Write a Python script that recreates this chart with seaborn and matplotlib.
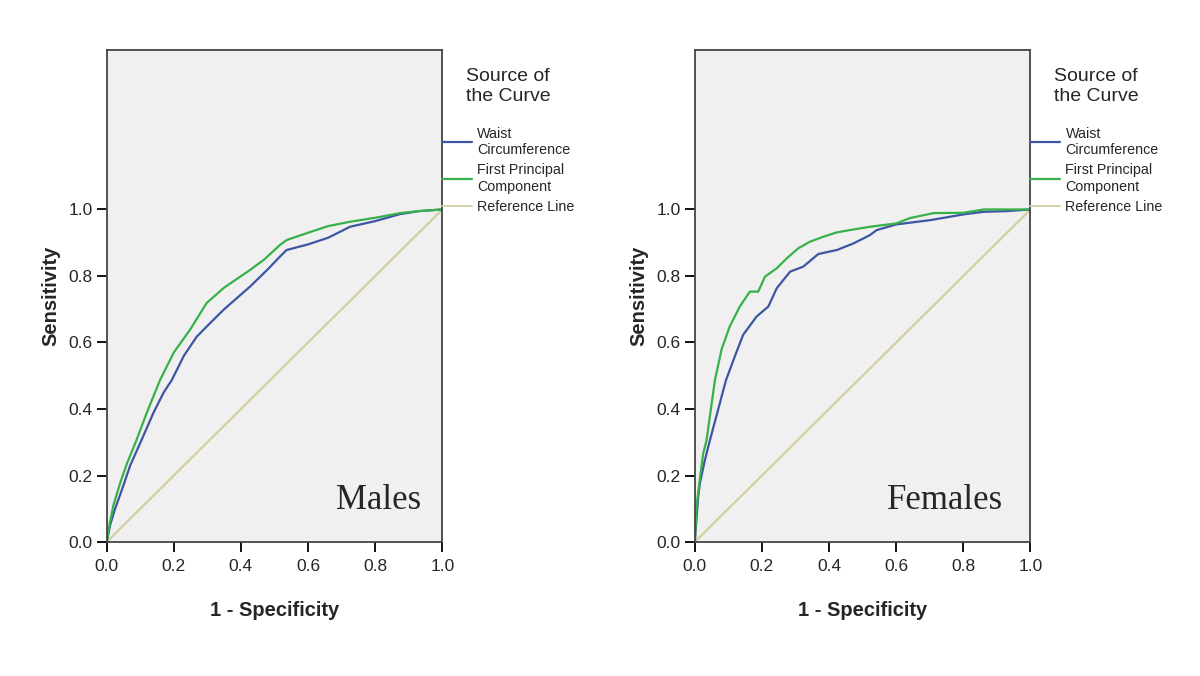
import pandas as pd
import matplotlib
matplotlib.use("Agg")
import matplotlib.pyplot as plt
import seaborn as sns

# ROC curve points (1 - specificity, sensitivity)
male_wc_fpr = [0, 0.01, 0.025, 0.045, 0.07, 0.104, 0.14, 0.17, 0.194, 0.23, 0.268, 0.298,
               0.35, 0.427, 0.48, 0.516, 0.536, 0.6, 0.66, 0.725, 0.8, 0.874, 0.93, 1.0]
male_wc_tpr = [0, 0.05, 0.1, 0.156, 0.23, 0.307, 0.39, 0.45, 0.487, 0.56, 0.617, 0.648,
               0.70, 0.768, 0.82, 0.858, 0.878, 0.895, 0.915, 0.948, 0.965, 0.986, 0.995, 1.0]

male_pc_fpr = [0, 0.01, 0.02, 0.04, 0.06, 0.089, 0.12, 0.159, 0.2, 0.248, 0.298, 0.35,
               0.427, 0.47, 0.516, 0.536, 0.6, 0.66, 0.725, 0.8, 0.874, 0.93, 1.0]
male_pc_tpr = [0, 0.06, 0.11, 0.177, 0.235, 0.307, 0.39, 0.487, 0.57, 0.638, 0.719, 0.765,
               0.818, 0.85, 0.893, 0.908, 0.93, 0.95, 0.963, 0.975, 0.989, 0.995, 1.0]

female_wc_fpr = [0, 0.005, 0.01, 0.015, 0.03, 0.045, 0.07, 0.093, 0.12, 0.144, 0.184, 0.219,
                 0.244, 0.284, 0.323, 0.368, 0.423, 0.473, 0.522, 0.542, 0.6, 0.702, 0.8,
                 0.861, 0.93, 1.0]
female_wc_tpr = [0, 0.07, 0.135, 0.176, 0.246, 0.306, 0.40, 0.487, 0.56, 0.623, 0.678, 0.708,
                 0.763, 0.813, 0.828, 0.866, 0.878, 0.898, 0.923, 0.938, 0.955, 0.968, 0.985,
                 0.993, 0.995, 1.0]

female_pc_fpr = [0, 0.005, 0.015, 0.025, 0.035, 0.06, 0.08, 0.104, 0.134, 0.164, 0.189, 0.209,
                 0.244, 0.274, 0.308, 0.343, 0.383, 0.423, 0.462, 0.522, 0.6, 0.641, 0.711,
                 0.8, 0.861, 1.0]
female_pc_tpr = [0, 0.105, 0.19, 0.266, 0.306, 0.487, 0.58, 0.648, 0.708, 0.753, 0.753, 0.798,
                 0.823, 0.853, 0.883, 0.903, 0.918, 0.931, 0.938, 0.948, 0.958, 0.974, 0.989,
                 0.99, 1.0, 1.0]

ref_line = [0, 1]
ticks = [0.0, 0.2, 0.4, 0.6, 0.8, 1.0]
labels = ["Waist\nCircumference", "First Principal\nComponent", "Reference Line"]
panels = ["Males", "Females"]

colors = {labels[0]: "#3d55a3", labels[1]: "#37b14a", labels[2]: "#d3cf9f"}


def make_frame(wc_x, wc_y, pc_x, pc_y):
    parts = [
        pd.DataFrame({"fpr": wc_x, "tpr": wc_y, "source": labels[0]}),
        pd.DataFrame({"fpr": pc_x, "tpr": pc_y, "source": labels[1]}),
        pd.DataFrame({"fpr": ref_line, "tpr": ref_line, "source": labels[2]}),
    ]
    return pd.concat(parts, ignore_index=True)


frames = [
    make_frame(male_wc_fpr, male_wc_tpr, male_pc_fpr, male_pc_tpr),
    make_frame(female_wc_fpr, female_wc_tpr, female_pc_fpr, female_pc_tpr),
]

sns.set_style("white")
plt.rcParams["font.family"] = ["Liberation Sans", "DejaVu Sans"]

fig = plt.figure(figsize=(12, 6.76), dpi=100)
lefts = [0.0889, 0.579]
text_x = [0.937, 0.919]

for i, df in enumerate(frames):
    ax = fig.add_axes([lefts[i], 0.1982, 0.2797, 0.7271])
    ax.set_facecolor("#f0f0f0")
    sns.lineplot(data=df, x="fpr", y="tpr", hue="source", palette=colors,
                 hue_order=[labels[2], labels[0], labels[1]],
                 estimator=None, sort=False, linewidth=1.6, ax=ax)
    # reference line thinner
    for ln in ax.lines:
        if ln.get_label() == labels[2]:
            ln.set_linewidth(1.3)
    ax.set_xlim(0, 1)
    ax.set_ylim(0, 1.478)
    ax.set_xticks(ticks)
    ax.set_yticks(ticks)
    ax.set_xticklabels([f"{t:.1f}" for t in ticks])
    ax.set_yticklabels([f"{t:.1f}" for t in ticks])
    ax.tick_params(direction="out", length=7, width=1.4, labelsize=12.5, pad=3,
                   bottom=True, left=True, color="#111111")
    ax.tick_params(axis="x", pad=5)
    for sp in ax.spines.values():
        sp.set_visible(True)
        sp.set_color("#444444")
        sp.set_linewidth(1.3)
    ax.set_xlabel("1 - Specificity", fontsize=14.5, fontweight="bold", labelpad=20)
    ax.set_ylabel("Sensitivity", fontsize=14.5, fontweight="bold", labelpad=6)

    ax.text(text_x[i], 0.099, panels[i], transform=ax.get_yaxis_transform(),
            ha="right", va="baseline", fontsize=25, family="Liberation Serif")

    ax.text(1.07, 1.425, "Source of\nthe Curve", transform=ax.get_yaxis_transform(),
            ha="left", va="top", fontsize=14, linespacing=1.25)

    handles, hlabels = ax.get_legend_handles_labels()
    order = [hlabels.index(l) for l in labels]
    ax.legend([handles[k] for k in order], [hlabels[k] for k in order],
              loc="upper left", bbox_to_anchor=(1.0, 0.845), frameon=False,
              borderaxespad=0, borderpad=0, handlelength=2.1, handletextpad=0.35,
              labelspacing=0.45, fontsize=10.3)

fig.savefig("out.png", dpi=100, facecolor="white")
